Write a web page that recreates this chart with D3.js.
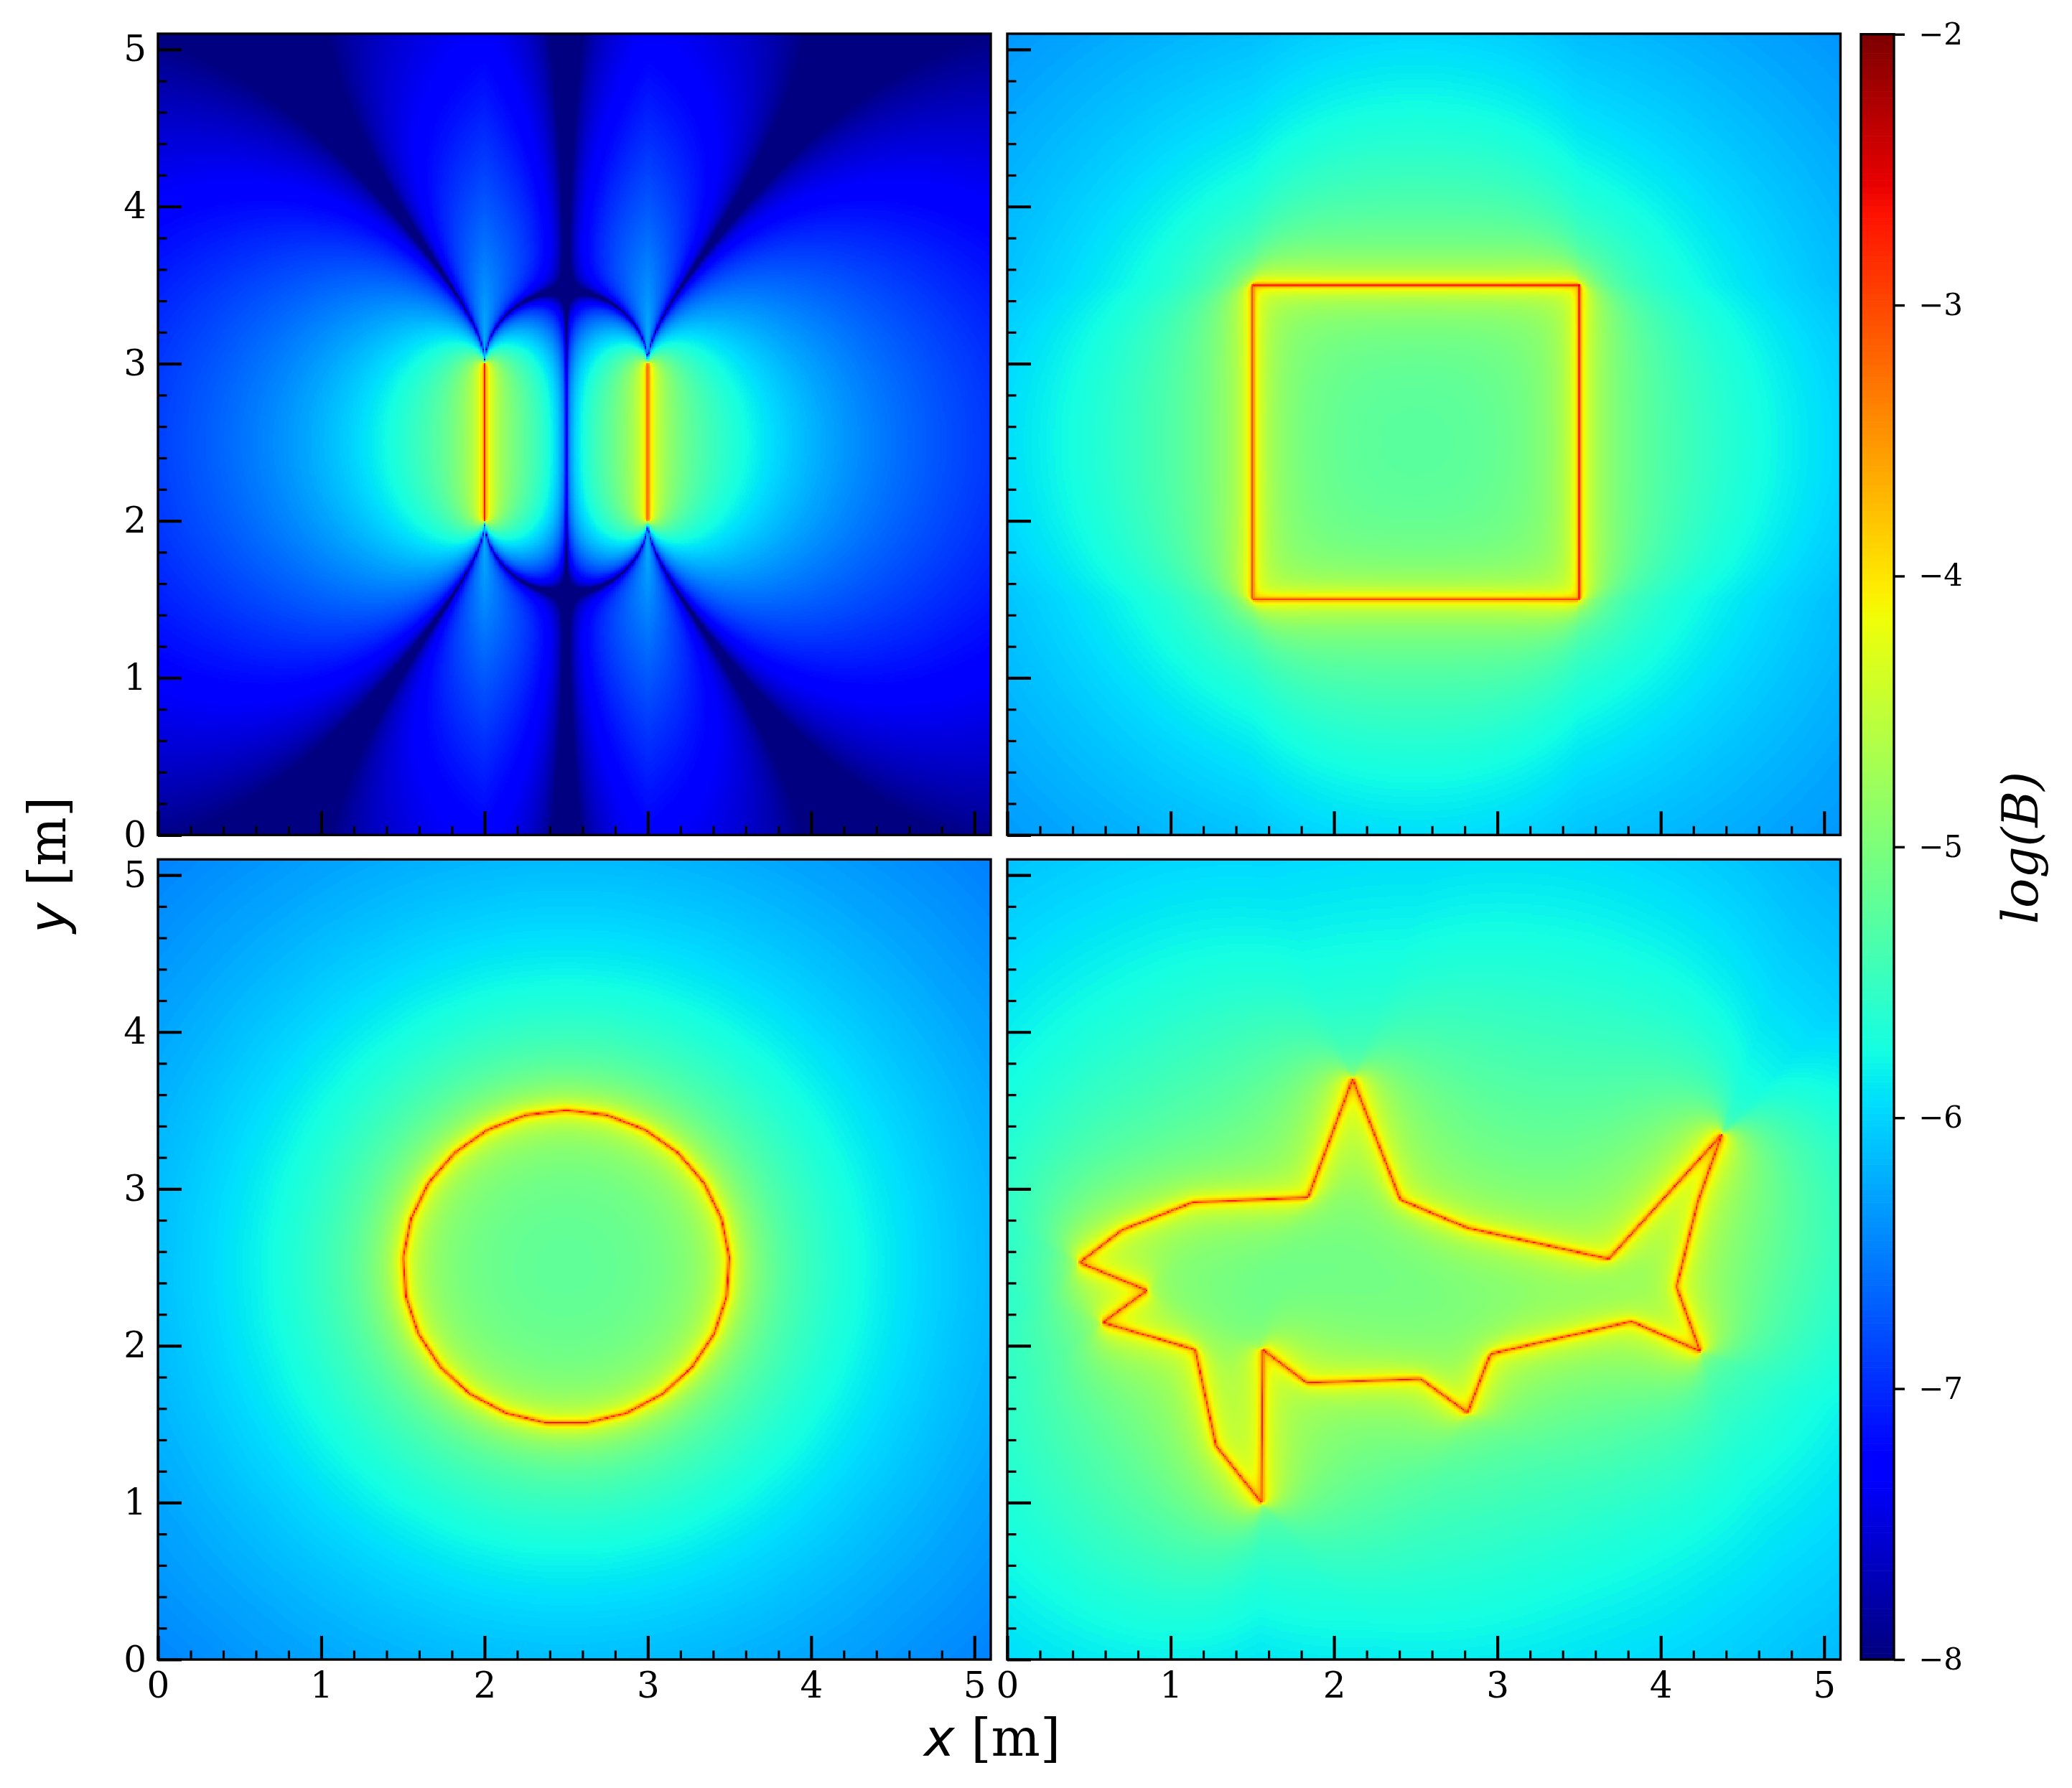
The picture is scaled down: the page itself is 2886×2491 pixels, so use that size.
<!DOCTYPE html>
<html><head><meta charset="utf-8">
<script src="https://cdn.jsdelivr.net/npm/d3@7"></script>
<style>
html,body{margin:0;padding:0;background:#fff}
#wrap{position:relative;width:2886px;height:2491px;overflow:hidden}
canvas{position:absolute}
svg{position:absolute;left:0;top:0}
text{font-family:"DejaVu Serif",serif;fill:#000}
</style></head><body><div id="wrap"></div>
<script>
// ---------- data ----------
const wireSegments = [[[2,2],[2,3],1],[[3,2],[3,3],-1]];
const squareVertices = [[1.5,1.5],[3.5,1.5],[3.5,3.5],[1.5,3.5]];
const circleVertices = [[2.5,3.5],[2.251,3.469],[2.018,3.376],[1.816,3.229],[1.656,3.036],[1.549,2.809],[1.502,2.563],[1.518,2.313],[1.595,2.074],[1.730,1.863],[1.912,1.691],[2.132,1.570],[2.375,1.508],[2.625,1.508],[2.868,1.570],[3.088,1.691],[3.270,1.863],[3.405,2.074],[3.482,2.313],[3.498,2.563],[3.451,2.809],[3.344,3.036],[3.184,3.229],[2.982,3.376],[2.749,3.469]];
const sharkVertices = [[2.113,3.70],[2.405,2.931],[2.817,2.75],[3.68,2.553],[4.372,3.345],[4.226,2.918],[4.095,2.375],[4.24,1.964],[3.82,2.155],[2.956,1.947],[2.817,1.572],[2.53,1.789],[1.833,1.763],[1.563,1.974],[1.555,1.0],[1.278,1.362],[1.15,1.974],[0.585,2.148],[0.855,2.352],[0.443,2.53],[0.702,2.737],[1.136,2.914],[1.84,2.944]];
const majorTicks = [0,1,2,3,4,5];
const minorTicks = [0.2,0.4,0.6,0.8,1.2,1.4,1.6,1.8,2.2,2.4,2.6,2.8,3.2,3.4,3.6,3.8,4.2,4.4,4.6,4.8];
const colorbarTicks = [-2,-3,-4,-5,-6,-7,-8];
const fieldScale = 1e-6;     // tesla per unit of the segment term, estimated from the colours
const coreDistance = 0.001;  // metres, softening on the wire itself
const gridStep = 0.01026, gridCount = 499;
const domainMax = 5.1, logMin = -8, logMax = -2;

// ---------- layout ----------
const W = 2886, H = 2491;
const cols = [[220,1380],[1403,2563.5]];
const rows = [[47,1163.3],[1197.3,2312]];
const cbar = {x0:2592,x1:2638,y0:47.7,y1:2312};

// ---------- jet ----------
const jetR=[[0,0],[.35,0],[.66,1],[.89,1],[1,.5]];
const jetG=[[0,0],[.125,0],[.375,1],[.64,1],[.91,0],[1,0]];
const jetB=[[0,.5],[.11,1],[.34,1],[.65,0],[1,0]];
const chan = s => d3.scaleLinear().domain(s.map(d=>d[0])).range(s.map(d=>d[1])).clamp(true);
const cr=chan(jetR), cg=chan(jetG), cb=chan(jetB);
const lut = d3.range(256).map(i=>{const t=i/255;return [Math.round(cr(t)*255),Math.round(cg(t)*255),Math.round(cb(t)*255)]});
const logToIndex = d3.scaleQuantize().domain([logMin,logMax]).range(d3.range(256));

const closed = v => v.map((p,i)=>[p,v[(i+1)%v.length],1]);
const panels = [
 {segs:wireSegments,c:0,r:0},
 {segs:closed(squareVertices),c:1,r:0},
 {segs:closed(circleVertices),c:0,r:1},
 {segs:closed(sharkVertices),c:1,r:1}
];

const wrap = d3.select('#wrap');
function segmentTerm(px,py,s){
  const [a,b]=s; const ux=b[0]-a[0], uy=b[1]-a[1]; const L=Math.hypot(ux,uy);
  const dx=px-a[0], dy=py-a[1];
  const along=(dx*ux+dy*uy)/L;
  const d=Math.max(Math.abs(dx*uy-dy*ux)/L,coreDistance);
  const rest=L-along;
  return (rest/Math.hypot(rest,d)+along/Math.hypot(along,d))/d;
}
panels.forEach(p=>{
  const x=d3.scaleLinear().domain([0,domainMax]).range(cols[p.c]);
  const y=d3.scaleLinear().domain([0,domainMax]).range([rows[p.r][1],rows[p.r][0]]);
  p.x=x;p.y=y;
  const cv=document.createElement('canvas');cv.width=gridCount;cv.height=gridCount;
  const cx=cv.getContext('2d'),im=cx.createImageData(gridCount,gridCount);
  for(let j=0;j<gridCount;j++){const yy=j*gridStep;
    for(let i=0;i<gridCount;i++){const xx=i*gridStep;
      let sum=0;for(const s of p.segs)sum+=s[2]*segmentTerm(xx,yy,s);
      let v=Math.log10(fieldScale*Math.abs(sum)+1e-14);
      v=Math.max(logMin,Math.min(logMax,v));
      const c=lut[logToIndex(v)];const o=((gridCount-1-j)*gridCount+i)*4;
      im.data[o]=c[0];im.data[o+1]=c[1];im.data[o+2]=c[2];im.data[o+3]=255;}}
  cx.putImageData(im,0,0);
  const out=wrap.append('canvas')
    .attr('width',Math.round(x(domainMax)-x(0))).attr('height',Math.round(y(0)-y(domainMax)))
    .style('left',x(0)+'px').style('top',y(domainMax)+'px').node();
  const o=out.getContext('2d');o.imageSmoothingEnabled=false;
  const sx=out.width/domainMax, sy=out.height/domainMax;
  const span=gridCount*gridStep;
  // image row 0 sits at the top of the grid, so anchor it on the y=0 row at the canvas bottom
  o.drawImage(cv,-gridStep/2*sx,out.height+gridStep/2*sy-span*sy,span*sx,span*sy);
});

// ---------- svg ----------
const svg=wrap.append('svg').attr('width',W).attr('height',H);
panels.forEach(p=>{
  const g=svg.append('g');
  const h=p.y.range()[0],w0=p.x.range()[0];
  const showX=p.r===1,showY=p.c===0;
  const fmt=d=>d;
  const ax=g.append('g').attr('transform',`translate(0,${h})`).call(d3.axisBottom(p.x).tickValues(majorTicks).tickSizeInner(-33).tickSizeOuter(0).tickPadding(17).tickFormat(showX?fmt:''));
  const ay=g.append('g').attr('transform',`translate(${w0},0)`).call(d3.axisLeft(p.y).tickValues(majorTicks).tickSizeInner(-33).tickSizeOuter(0).tickPadding(16).tickFormat(showY?fmt:''));
  const mx=g.append('g').attr('transform',`translate(0,${h})`).call(d3.axisBottom(p.x).tickValues(minorTicks).tickSizeInner(-12.5).tickSizeOuter(0).tickFormat(''));
  const my=g.append('g').attr('transform',`translate(${w0},0)`).call(d3.axisLeft(p.y).tickValues(minorTicks).tickSizeInner(-12.5).tickSizeOuter(0).tickFormat(''));
  [ax,ay,mx,my].forEach(a=>{a.select('.domain').remove();});
  [ax,ay].forEach(a=>{a.selectAll('line').attr('stroke','#000').attr('stroke-width',4.2);a.selectAll('text').attr('font-size',50).attr('font-family','"DejaVu Serif",serif').attr('fill','#000');});
  [mx,my].forEach(a=>a.selectAll('line').attr('stroke','#000').attr('stroke-width',3.2));
  g.append('rect').attr('x',p.x.range()[0]).attr('y',p.y.range()[1]).attr('width',p.x.range()[1]-p.x.range()[0]).attr('height',h-p.y.range()[1]).attr('fill','none').attr('stroke','#000').attr('stroke-width',3.4);
});

// ---------- colorbar ----------
const cy=d3.scaleLinear().domain([logMin,logMax]).range([cbar.y1,cbar.y0]);
const cg2=svg.append('g');
const bandH=(cbar.y1-cbar.y0)/256;
cg2.selectAll('rect').data(lut).join('rect')
  .attr('x',cbar.x0).attr('width',cbar.x1-cbar.x0)
  .attr('y',(d,i)=>cy(logMin+(i+1)*(logMax-logMin)/256))
  .attr('height',bandH+0.6)
  .attr('fill',d=>`rgb(${d[0]},${d[1]},${d[2]})`);
cg2.append('rect').attr('x',cbar.x0).attr('y',cbar.y0).attr('width',cbar.x1-cbar.x0).attr('height',cbar.y1-cbar.y0).attr('fill','none').attr('stroke','#000').attr('stroke-width',3.4);
const cax=svg.append('g').attr('transform',`translate(${cbar.x1},0)`).call(d3.axisRight(cy).tickValues(colorbarTicks).tickSizeInner(15).tickSizeOuter(0).tickPadding(19).tickFormat(d=>'\u2212'+Math.abs(d)));
cax.select('.domain').remove();
cax.selectAll('line').attr('stroke','#000').attr('stroke-width',3.4);
cax.selectAll('text').attr('font-size',42).attr('font-family','"DejaVu Serif",serif').attr('fill','#000');

// ---------- labels ----------
const xl=svg.append('text').attr('x',1382).attr('y',2446).attr('text-anchor','middle').attr('font-size',72);
xl.append('tspan').attr('font-family','"DejaVu Sans"').attr('font-style','italic').text('x');
xl.append('tspan').text(' [m]');
const yl=svg.append('text').attr('transform','translate(91,1205) rotate(-90)').attr('text-anchor','middle').attr('font-size',72);
yl.append('tspan').attr('font-family','"DejaVu Sans"').attr('font-style','italic').text('y');
yl.append('tspan').text(' [m]');
svg.append('text').attr('transform','translate(2838,1181) rotate(-90)').attr('text-anchor','middle').attr('font-size',69).attr('font-family','"DejaVu Sans"').attr('font-style','italic').text('log(B)');
</script></body></html>
